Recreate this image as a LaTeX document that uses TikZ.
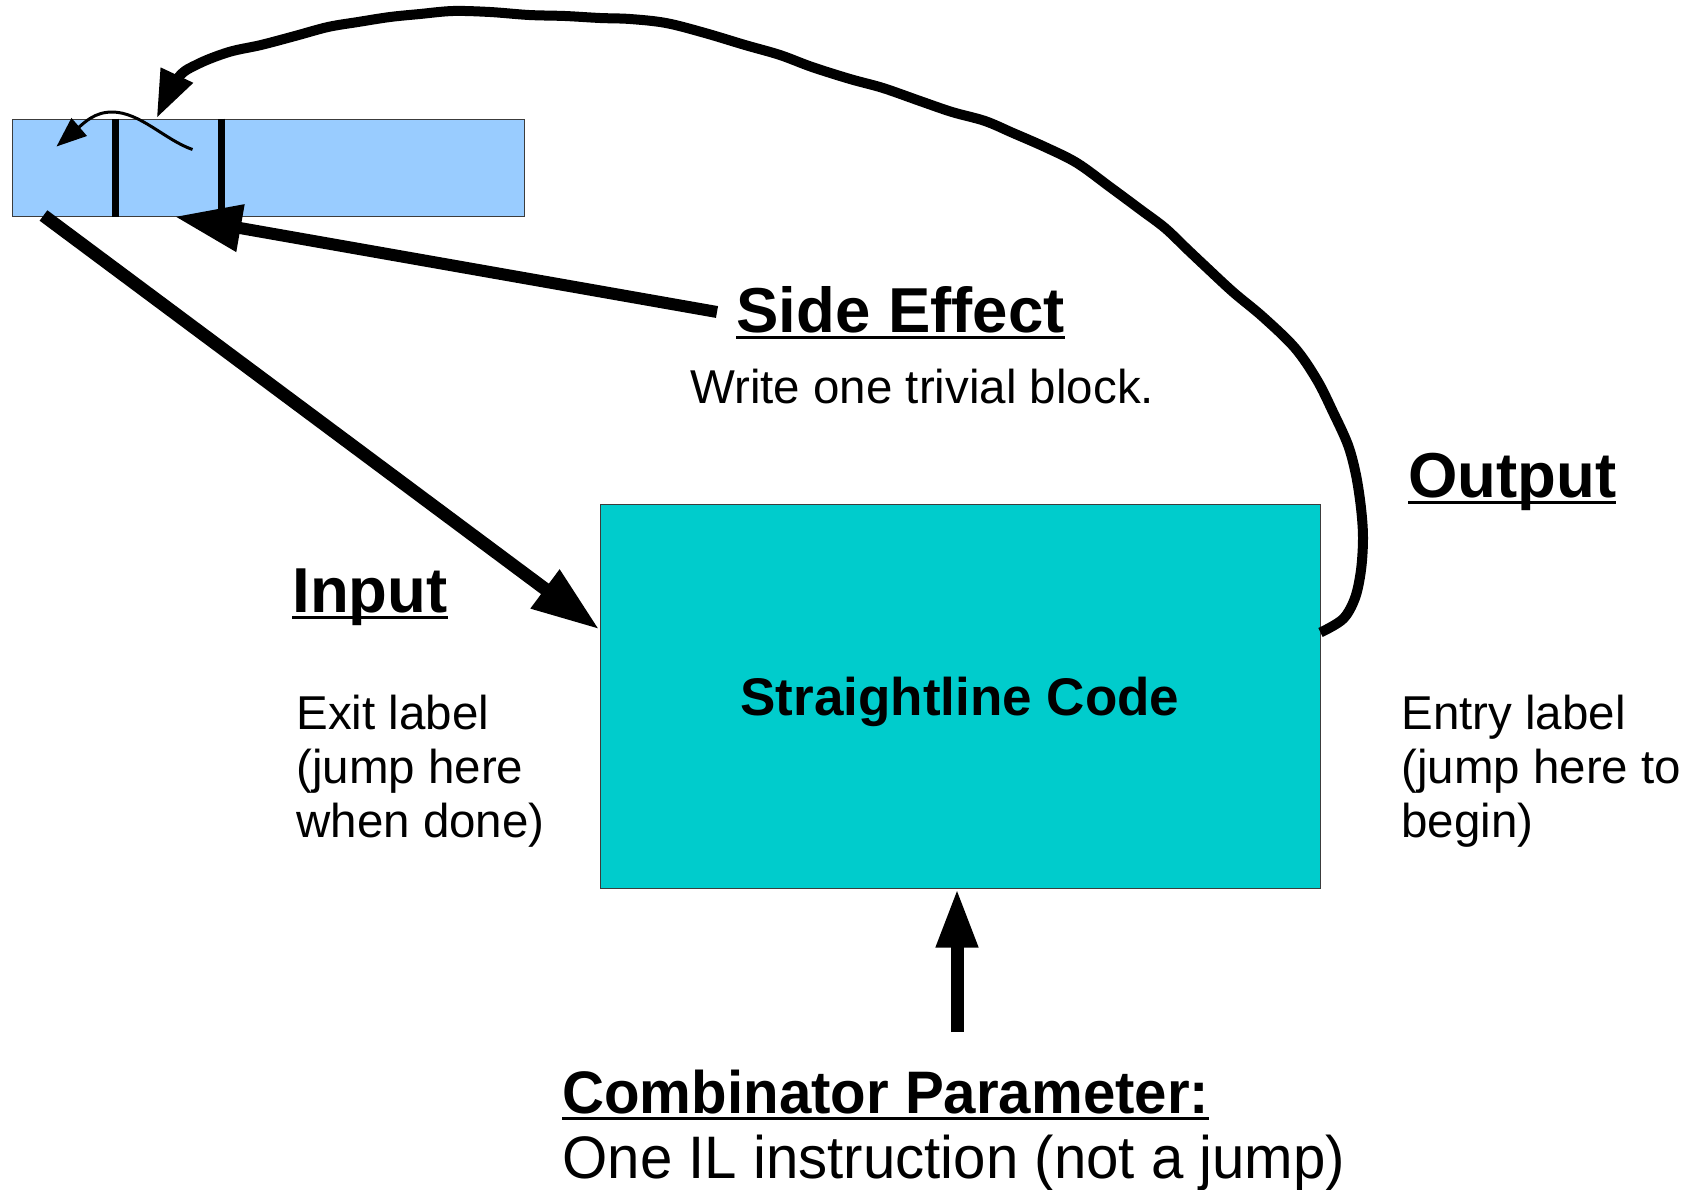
\documentclass[tikz,border=0pt]{standalone}
\usepackage{fontspec}
\setmainfont{Liberation Sans}
\usepackage{graphicx}
\usetikzlibrary{arrows.meta,calc}

\definecolor{barblue}{HTML}{99CCFF}
\definecolor{codecyan}{HTML}{00CCCC}
\definecolor{edgegray}{HTML}{3C3C3C}

% underlined heading with a fixed rule just below the baseline
\newlength\ulwd
\newcommand\ultext[1]{\settowidth\ulwd{#1}\rlap{\rule[-0.11em]{\ulwd}{0.05em}}#1}
\newcommand\threelines[3]{\begin{tabular}[t]{@{}l@{}}#1\\#2\\#3\end{tabular}}

\begin{document}
\begin{tikzpicture}[x=0.5pt,y=-0.5pt,
  heading/.style={font=\fontsize{31.75}{38}\selectfont\bfseries, anchor=base west, inner sep=0pt},
  body/.style={font=\fontsize{23.75}{27}\selectfont, anchor=base west, inner sep=0pt},
  footer/.style={font=\fontsize{30}{36}\selectfont, anchor=base west, inner sep=0pt},
  bigarrow/.style={line width=6.5pt, -{Triangle[length=34pt,width=22.5pt]}},
  sidearrow/.style={line width=6pt, -{Triangle[length=33.5pt,width=22.5pt]}},
  uparrow/.style={line width=6.5pt, -{Triangle[length=29.5pt,width=19.5pt]}},
  looparrow/.style={line width=5pt, line join=round, -{Triangle[length=24pt,width=16.5pt]}},
  smallarrow/.style={line width=1.5pt, -{Triangle[length=15pt,width=11.5pt]}},
  divider/.style={line width=3.5pt}
]
\useasboundingbox[fill=white] (0,0) rectangle (1687,1189);

% block buffer strip
\node (bar) [draw=edgegray, line width=0.5pt, fill=barblue, minimum width=256pt,
  minimum height=48.5pt, inner sep=0pt] at (268,167.5) {};
\draw[divider] ([xshift=52pt]bar.north west) -- ([xshift=52pt]bar.south west);
\draw[divider] ([xshift=105pt]bar.north west) -- ([xshift=105pt]bar.south west);

% main code box
\node (code) [draw=edgegray, line width=0.5pt, fill=codecyan, minimum width=360pt,
  minimum height=192pt, inner sep=0pt, text depth=0pt,
  font=\fontsize{26.5}{32}\selectfont\bfseries] at (960,696) {Straightline Code};

% labels
\node (side) [heading] at (736,332) {\ultext{Side Effect}};
\node (write) [body] at (690,403) {Write one trivial block.};
\node (input) [heading] at (292,612) {\ultext{Input}};
\node (exit) [body] at (296,729) {\threelines{Exit label}{(jump here}{when done)}};
\node (output) [heading] at (1408,497) {\ultext{Output}};
\node (entry) [body] at (1401,729) {\threelines{Entry label}{(jump here to}{begin)}};
\node (comb) [footer, font=\fontsize{30}{36}\selectfont\bfseries] at (562,1113)
  {\scalebox{0.97}[1]{\ultext{Combinator Parameter:}}};
\node (instr) [footer] at (562,1178) {\scalebox{0.97}[1]{One IL instruction (not a jump)}};

% connector end points
\coordinate (instart) at ([shift={(16pt,0.5pt)}]bar.south west);
\coordinate (inend) at ([yshift=-63pt]code.north west);
\coordinate (sefrom) at (717,312);
\coordinate (seto) at ([xshift=81.5pt]bar.south west);
\coordinate (paramfrom) at (957,1032);
\coordinate (paramto) at ([xshift=-1.5pt]code.south);
\coordinate (outstart) at ([yshift=-64.5pt]code.north east);
\coordinate (intip) at ([xshift=72.5pt]bar.north west);
\coordinate (wstart) at ([shift={(90.5pt,-15.5pt)}]bar.north west);
\coordinate (wtip) at ([shift={(22.5pt,-14pt)}]bar.north west);

% input, side effect and parameter arrows
\draw[bigarrow] (instart) -- (inend);
\draw[sidearrow] (sefrom) -- (seto);
\draw[uparrow] (paramfrom) -- (paramto);

% output loops back to the strip
\draw[looparrow] plot[smooth, tension=0.55] coordinates {
  (outstart) (1343,619) (1355,598) (1361,570) (1363,538) (1361,508)
  (1356,475) (1348,445) (1333,412) (1317,380) (1295,348) (1263,317)
  (1233,292) (1205,266) (1187,249) (1165,228) (1141,210) (1110,187)
  (1077,163) (1045,147) (1013,133) (985,121) (952,112) (920,101)
  (883,88) (850,79) (812,67) (780,55) (745,45) (705,33) (666,23)
  (630,19) (600,18) (565,16) (529,15) (490,12) (453,11) (420,14)
  (390,17) (358,22) (328,27) (295,36) (261,45) (229,52) (198,64)
  (178,78) (intip)};

% small wave inside the strip
\draw[smallarrow] (wstart) .. controls (165,140) and (140,112) .. (112,112)
  .. controls (95,112) and (85,122) .. (wtip);
\end{tikzpicture}
\end{document}
